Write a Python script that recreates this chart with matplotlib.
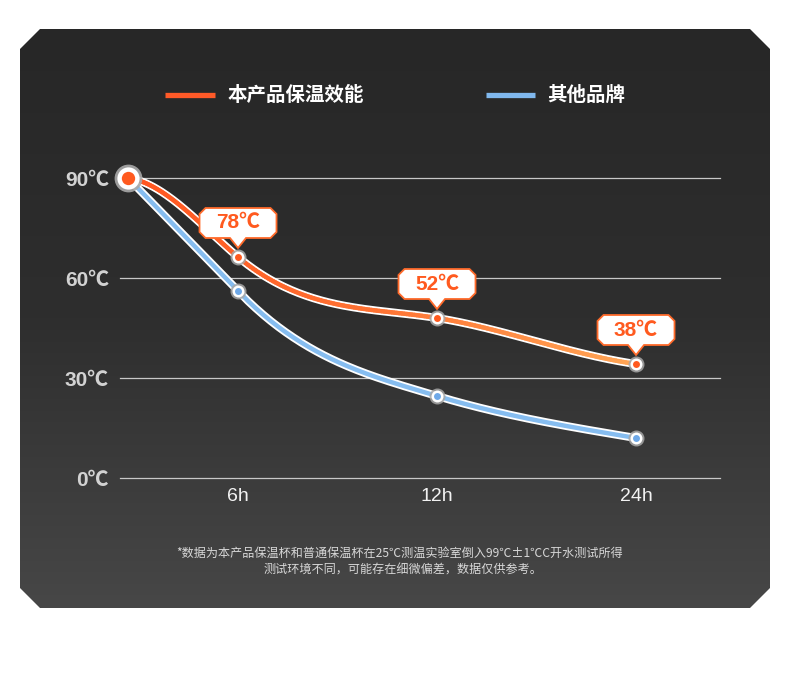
import numpy as np
import matplotlib.pyplot as plt
import matplotlib.transforms as mtransforms
from matplotlib.collections import LineCollection
from matplotlib.patches import Polygon
from matplotlib.colors import LinearSegmentedColormap

plt.rcParams['font.family'] = ['Liberation Sans', 'Noto Sans CJK SC', 'DejaVu Sans']
CJK = ['Noto Sans CJK SC', 'DejaVu Sans']

# ---- data ----
hours = ["6h", "12h", "24h"]
hour_pos = [1, 2, 3]
start_pos = 0.447          # start point (filled with 90℃) sits left of 6h
ours = [90, 66.3, 48, 34.2]
others = [90, 56.1, 24.6, 12]
our_labels = ["78℃", "52℃", "38℃"]
y_ticks = [0, 30, 60, 90]
legend_names = ["本产品保温效能", "其他品牌"]
note_lines = ["*数据为本产品保温杯和普通保温杯在25℃测温实验室倒入99℃±1℃C开水测试所得",
              "测试环境不同，可能存在细微偏差，数据仅供参考。"]

# curve shape (tangents at each point, in data units)
ours_tangents = [-8, -50, -9.5, -8.6]
others_tangents = [-61, -62, -18, -10]

ORANGE = '#ff5a1f'
BLUE = '#86bdf0'


def hermite(xk, yk, mk, n=80):
    xs, ys = [], []
    for i in range(len(xk) - 1):
        h = xk[i + 1] - xk[i]
        t = np.linspace(0, 1, n)
        h00 = 2 * t**3 - 3 * t**2 + 1
        h10 = t**3 - 2 * t**2 + t
        h01 = -2 * t**3 + 3 * t**2
        h11 = t**3 - t**2
        xs.append(xk[i] + t * h)
        ys.append(h00 * yk[i] + h10 * h * mk[i] + h01 * yk[i + 1] + h11 * h * mk[i + 1])
    return np.concatenate(xs), np.concatenate(ys)


fig = plt.figure(figsize=(7.9, 6.8), dpi=100)
fig.patch.set_facecolor('white')

# ---- background panel ----
bg = fig.add_axes([0, 0, 1, 1])
bg.set_xlim(0, 790)
bg.set_ylim(680, 0)
bg.axis('off')
panel = Polygon([(40, 29), (750, 29), (770, 49), (770, 588), (750, 608),
                 (40, 608), (20, 588), (20, 49)], closed=True,
                facecolor='none', edgecolor='none')
bg.add_patch(panel)
grad_cmap = LinearSegmentedColormap.from_list('bg', ['#272727', '#2e2e2e', '#474747'])
grad = np.linspace(0, 1, 256).reshape(-1, 1)
im = bg.imshow(grad, extent=[20, 770, 608, 29], cmap=grad_cmap, aspect='auto',
               interpolation='bicubic')
im.set_clip_path(panel)

# legend
bg.plot([165, 215], [95, 95], color='#ff5a28', lw=3.8, solid_capstyle='butt')
bg.text(228, 95, legend_names[0], color='white', fontsize=14, fontweight='bold',
        va='center', ha='left', family=CJK)
bg.plot([486, 535], [95, 95], color='#80b8ee', lw=3.8, solid_capstyle='butt')
bg.text(547, 95, legend_names[1], color='white', fontsize=14, fontweight='bold',
        va='center', ha='left', family=CJK)

# footnote
bg.text(400, 553, note_lines[0], color='#d8d8d8', fontsize=8.7, fontweight='medium',
        ha='center', va='center', family=CJK)
bg.text(403, 570, note_lines[1], color='#d8d8d8', fontsize=8.7, fontweight='medium',
        ha='center', va='center', family=CJK)

# ---- chart ----
ax = fig.add_axes([120 / 790, (680 - 478) / 680, 600 / 790, 318 / 680])
ax.patch.set_alpha(0)
ax.set_xlim(0.407, 3.422)
ax.set_ylim(0, 95.4)
for s in ax.spines.values():
    s.set_visible(False)
for v in y_ticks:
    ax.axhline(v, color='#c8c8c8', lw=0.9, zorder=1, clip_on=False)

ax.set_yticks(y_ticks, labels=[f"{v}℃" for v in y_ticks])
ax.set_xticks(hour_pos, labels=hours)
ax.tick_params(axis='y', length=0, pad=8, labelsize=15, labelcolor='#d2d2d2')
ax.tick_params(axis='x', length=0, pad=7, labelsize=14, labelcolor='#f2f2f2')
for lab in ax.get_yticklabels():
    lab.set_fontweight('bold')

xk = [start_pos] + hour_pos

# other brand curve
bx, by = hermite(xk, others, others_tangents)
ax.plot(bx, by, color='white', lw=5.8, solid_capstyle='round', zorder=3, clip_on=False)
ax.plot(bx, by, color=BLUE, lw=3.2, solid_capstyle='round', zorder=4, clip_on=False)

# our product curve, gradient orange
ox, oy = hermite(xk, ours, ours_tangents)
ax.plot(ox, oy, color='white', lw=5.8, solid_capstyle='round', zorder=5, clip_on=False)
pts = np.column_stack([ox, oy]).reshape(-1, 1, 2)
segs = np.concatenate([pts[:-1], pts[1:]], axis=1)
orange_cmap = LinearSegmentedColormap.from_list('og', ['#ff5520', '#ff7434', '#ffa656'])
lc = LineCollection(segs, cmap=orange_cmap, norm=plt.Normalize(xk[0], xk[-1]),
                    linewidths=3.2, capstyle='round', zorder=6)
lc.set_array(ox[:-1])
lc.set_clip_on(False)
ax.add_collection(lc)

# markers
for x, y in zip(hour_pos, others[1:]):
    ax.plot(x, y, 'o', ms=11.5, color='#a8a8a8', alpha=0.85, mec='none', zorder=7, clip_on=False)
    ax.plot(x, y, 'o', ms=8.6, color='white', mec='none', zorder=7, clip_on=False)
    ax.plot(x, y, 'o', ms=5, color='#6fa9e8', mec='none', zorder=7, clip_on=False)
for x, y in zip(hour_pos, ours[1:]):
    ax.plot(x, y, 'o', ms=11.5, color='#a8a8a8', alpha=0.85, mec='none', zorder=8, clip_on=False)
    ax.plot(x, y, 'o', ms=8.6, color='white', mec='none', zorder=8, clip_on=False)
    ax.plot(x, y, 'o', ms=5, color=ORANGE, mec='none', zorder=8, clip_on=False)
ax.plot(start_pos, ours[0], 'o', ms=20, color='#a8a8a8', alpha=0.9, mec='none', zorder=9, clip_on=False)
ax.plot(start_pos, ours[0], 'o', ms=16, color='white', mec='none', zorder=9, clip_on=False)
ax.plot(start_pos, ours[0], 'o', ms=9.6, color=ORANGE, mec='none', zorder=9, clip_on=False)

# callout boxes (shape in pixels relative to the point)
w, hb, c, base = 38.5, 30, 6, 19
shape = np.array([(-w + c, base + hb), (w - c, base + hb), (w, base + hb - c), (w, base + c),
                  (w - c, base), (8, base), (0, base - 10), (-8, base), (-w + c, base),
                  (-w, base + c), (-w, base + hb - c)]) / fig.dpi
for x, y, lab in zip(hour_pos, ours[1:], our_labels):
    tr = fig.dpi_scale_trans + mtransforms.ScaledTranslation(x, y, ax.transData)
    ax.add_patch(Polygon(shape, closed=True, transform=tr, facecolor='white',
                         edgecolor='#ff6a2a', lw=1.3, zorder=10, clip_on=False))
    ax.annotate(lab, xy=(x, y), xytext=(0, (base + hb / 2) * 0.72), textcoords='offset points',
                ha='center', va='center', fontsize=15, fontweight='bold', color=ORANGE,
                zorder=11, annotation_clip=False)

fig.savefig('out.png', dpi=100, facecolor='white')
